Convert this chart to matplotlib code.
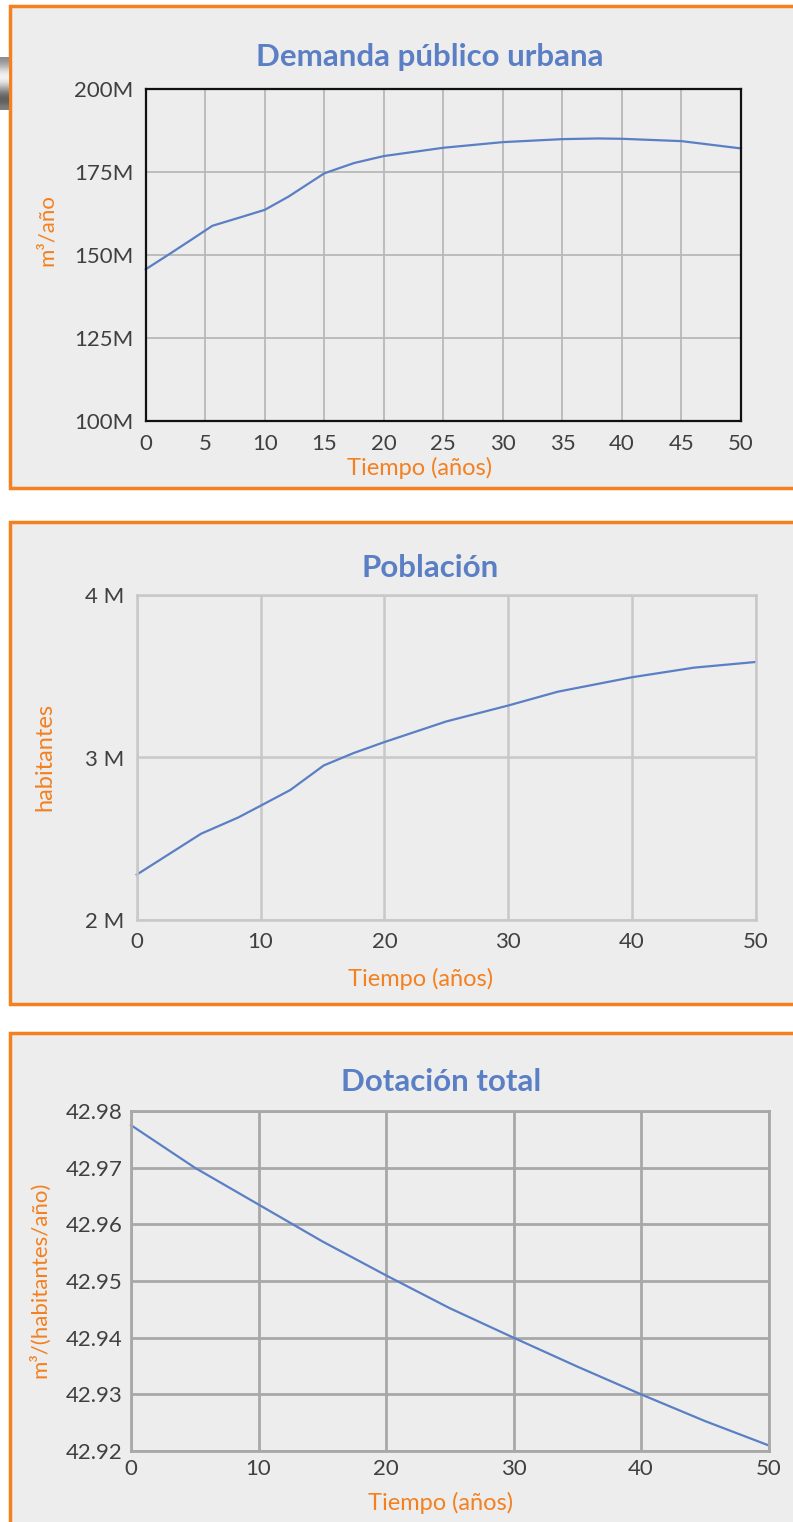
import numpy as np
import matplotlib.pyplot as plt
from matplotlib.patches import Rectangle

# --- data ---
t_dem = [0, 2, 4, 5.6, 8, 10, 12, 15, 17.5, 20, 25, 30, 35, 38, 40, 45, 50]
demanda = [145.7, 150.3, 155.0, 158.8, 161.4, 163.6, 167.6, 174.6, 177.7, 179.8,
           182.3, 184.0, 184.9, 185.1, 185.0, 184.3, 182.1]  # millones m3/año

t_pob = [0, 5.2, 8.2, 10, 12.4, 15.1, 17.5, 20, 25, 30, 34, 40, 45, 50]
poblacion = [2.279, 2.531, 2.631, 2.703, 2.80, 2.951, 3.027, 3.095, 3.222,
             3.32, 3.405, 3.494, 3.553, 3.588]  # millones habitantes

t_dot = [0, 5, 10, 15, 20, 25, 30, 35, 40, 45, 50]
dotacion = [42.9775, 42.970, 42.9635, 42.957, 42.951, 42.9452, 42.940,
            42.9349, 42.930, 42.9253, 42.921]

dem_yticks = [100, 125, 150, 175, 200]
dem_ylabels = ['100M', '125M', '150M', '175M', '200M']
pob_yticks = [2, 3, 4]
pob_ylabels = ['2 M', '3 M', '4 M']
dot_yticks = [42.92, 42.93, 42.94, 42.95, 42.96, 42.97, 42.98]

W, H = 793, 1522
ORANGE = '#F4801F'
BLUE = '#5B7FC4'
PANEL = '#EDEDED'
TXT = '#404040'
plt.rcParams['font.family'] = ['Lato', 'DejaVu Sans']

fig = plt.figure(figsize=(W / 100, H / 100), dpi=100)
fig.patch.set_facecolor('white')


def fx(px):
    return px / W


def fy(py):
    return 1 - py / H


# panel backgrounds with orange borders
for top, bot in [(6, 488), (522, 1004), (1033, 1540)]:
    fig.patches.append(Rectangle((fx(10), fy(bot)), fx(800) - fx(10), fy(top) - fy(bot),
                                 transform=fig.transFigure, facecolor=PANEL,
                                 edgecolor=ORANGE, linewidth=2.5, zorder=-5))

# metal pipe piece at the top left
pipe = fig.add_axes([0, fy(110), fx(9), fy(57) - fy(110)])
grad = np.array([0.55, 0.7, 0.9, 0.98, 0.85, 0.6, 0.4, 0.35, 0.5]).reshape(-1, 1)
pipe.imshow(grad, cmap='gray', vmin=0, vmax=1, aspect='auto', interpolation='bicubic')
pipe.axis('off')


def make_axes(left, right, top, bottom):
    ax = fig.add_axes([fx(left), fy(bottom), fx(right) - fx(left), fy(top) - fy(bottom)])
    ax.set_zorder(2)
    return ax


def style(ax, grid_color, grid_lw, frame_color, frame_lw):
    ax.set_facecolor(PANEL)
    ax.grid(True, color=grid_color, linewidth=grid_lw)
    ax.set_axisbelow(True)
    for s in ax.spines.values():
        s.set_color(frame_color)
        s.set_linewidth(frame_lw)
    ax.tick_params(length=0, labelsize=16, labelcolor=TXT, pad=9)


# --- Demanda publico urbana ---
ax1 = make_axes(145.7, 741, 89, 421)
ax1.plot(t_dem, demanda, color=BLUE, linewidth=1.6, clip_on=False)
ax1.set_xlim(0, 50)
ax1.set_ylim(100, 200)
ax1.set_xticks(range(0, 51, 5))
ax1.set_yticks(dem_yticks)
ax1.set_yticklabels(dem_ylabels)
style(ax1, '#B8B8B8', 1.3, '#111111', 1.6)
fig.text(fx(430), fy(57), 'Demanda público urbana', ha='center', va='center',
         fontsize=22.5, fontweight='bold', color=BLUE)
fig.text(fx(420), fy(468), 'Tiempo (años)', ha='center', va='center', fontsize=17, color=ORANGE)
fig.text(fx(47), fy(230), 'm³/año', ha='center', va='center', rotation=90, fontsize=16, color=ORANGE)

# --- Poblacion ---
ax2 = make_axes(136.7, 756, 595, 920)
ax2.plot(t_pob, poblacion, color=BLUE, linewidth=1.6, clip_on=False)
ax2.set_xlim(0, 50)
ax2.set_ylim(2, 4)
ax2.set_xticks(range(0, 51, 10))
ax2.set_yticks(pob_yticks)
ax2.set_yticklabels(pob_ylabels)
style(ax2, '#C8C8C8', 1.8, '#C8C8C8', 1.8)
fig.text(fx(430), fy(568), 'Población', ha='center', va='center',
         fontsize=22.5, fontweight='bold', color=BLUE)
fig.text(fx(421), fy(979), 'Tiempo (años)', ha='center', va='center', fontsize=17, color=ORANGE)
fig.text(fx(45), fy(757), 'habitantes', ha='center', va='center', rotation=90, fontsize=17, color=ORANGE)

# --- Dotacion total ---
ax3 = make_axes(131, 768.5, 1111, 1451)
ax3.plot(t_dot, dotacion, color=BLUE, linewidth=1.6, clip_on=False)
ax3.set_xlim(0, 50)
ax3.set_ylim(42.92, 42.98)
ax3.set_xticks(range(0, 51, 10))
ax3.set_yticks(dot_yticks)
ax3.set_yticklabels([f'{v:.2f}' for v in dot_yticks])
style(ax3, '#A8A8A8', 2.0, '#A8A8A8', 2.0)
ax3.tick_params(pad=6)
fig.text(fx(441), fy(1082), 'Dotación total', ha='center', va='center',
         fontsize=22.5, fontweight='bold', color=BLUE)
fig.text(fx(441), fy(1503), 'Tiempo (años)', ha='center', va='center', fontsize=17, color=ORANGE)
fig.text(fx(40), fy(1280), 'm³/(habitantes/año)', ha='center', va='center', rotation=90,
         fontsize=16, color=ORANGE)

fig.savefig('out.png', dpi=100, facecolor='white')
